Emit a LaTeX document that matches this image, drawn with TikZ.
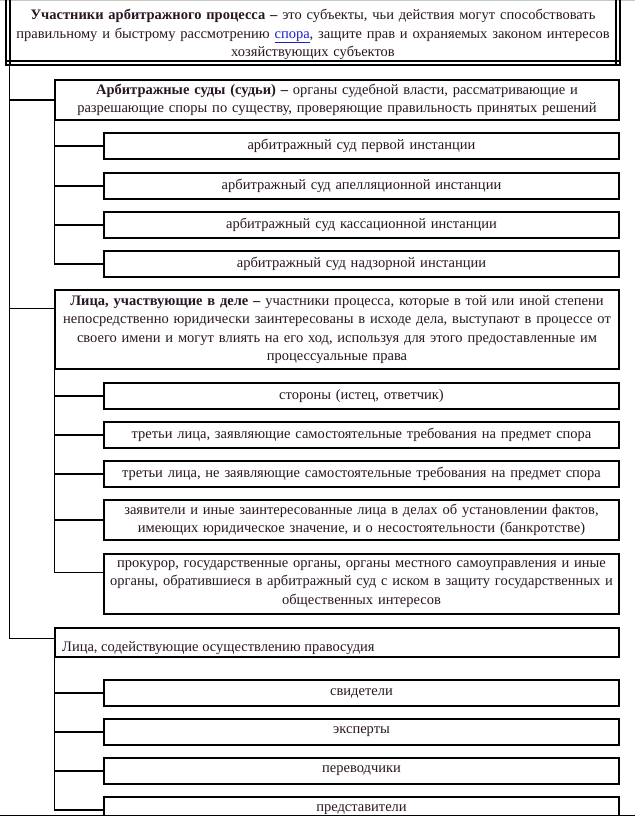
\documentclass[tikz,border=0pt]{standalone}
\usepackage{fontspec}
\setmainfont{Liberation Serif}
\usetikzlibrary{calc}
\definecolor{txt}{RGB}{40,22,36}
\definecolor{lnk}{RGB}{30,30,205}
\newcommand\myfs{\fontsize{14.5}{18.5}\selectfont}
\begin{document}
\begin{tikzpicture}[x=1pt,y=-1pt,
  ln/.style={line width=1.3pt, draw=black},
  box/.style={draw=black, line width=1.3pt, inner sep=0pt, align=center, text=txt, font=\myfs},
  mainbox/.style={box, text width=564pt},
  subbox/.style={box, text width=515pt},
  dbl/.style={line width=1.6pt, draw=black}]
\useasboundingbox (0,0) rectangle (635,816);
\clip (0,0) rectangle (635,816);
\fill[white] (0,0) rectangle (635,816);

% top box
\node[text=txt, font=\myfs, align=center, text width=600pt, inner sep=0pt] (top) at (313,34.5)
 {\textbf{Участники арбитражного процесса –} это субъекты, чьи действия могут способствовать\\
  правильному и быстрому рассмотрению \textcolor{lnk}{\underline{спора}}, защите прав и охраняемых законом интересов\\
  хозяйствующих субъектов};
\draw[gray!45, line width=1pt] (0,0.5) -- (635,0.5);
\draw[dbl] (6,0) -- (6,65.8);
\draw[dbl] (10,0) -- (10,65.8);
\draw[dbl] (616,0) -- (616,65.8);
\draw[dbl] (620,0) -- (620,65.8);
\draw[dbl] (5.2,61) -- (620.8,61);
\draw[dbl] (5.2,65) -- (620.8,65);

% group 1
\node[mainbox, minimum height=40pt] (b1) at (337,100)
 {\textbf{Арбитражные суды (судьи) –} органы судебной власти, рассматривающие и\\
  разрешающие споры по существу, проверяющие правильность принятых решений};
\node[subbox, minimum height=26pt] (s11) at (361.5,146) {арбитражный суд первой инстанции};
\node[subbox, minimum height=26pt] (s12) at (361.5,186) {арбитражный суд апелляционной инстанции};
\node[subbox, minimum height=26pt] (s13) at (361.5,225) {арбитражный суд кассационной инстанции};
\node[subbox, minimum height=26pt] (s14) at (361.5,264) {арбитражный суд надзорной инстанции};

% group 2
\node[mainbox, minimum height=79pt] (b2) at (337,329.5)
 {\textbf{Лица, участвующие в деле –} участники процесса, которые в той или иной степени\\
  непосредственно юридически заинтересованы в исходе дела, выступают в процессе от\\
  своего имени и могут влиять на его ход, используя для этого предоставленные им\\
  процессуальные права};
\node[subbox, minimum height=26pt] (s21) at (361.5,396) {стороны (истец, ответчик)};
\node[subbox, minimum height=26pt] (s22) at (361.5,435) {третьи лица, заявляющие самостоятельные требования на предмет спора};
\node[subbox, minimum height=26pt] (s23) at (361.5,474) {третьи лица, не заявляющие самостоятельные требования на предмет спора};
\node[subbox, minimum height=40pt] (s24) at (361.5,520)
 {заявители и иные заинтересованные лица в делах об установлении фактов,\\
  имеющих юридическое значение, и о несостоятельности (банкротстве)};
\node[subbox, minimum height=60pt] (s25) at (361.5,584)
 {прокурор, государственные органы, органы местного самоуправления и иные\\
  органы, обратившиеся в арбитражный суд с иском в защиту государственных и\\
  общественных интересов};

% group 3
\node[mainbox, minimum height=29pt] (b3) at (337,642.5) {};
\node[anchor=west, text=txt, font=\myfs, inner sep=0pt] (b3t) at (62,648) {Лица, содействующие осуществлению правосудия};
\node[subbox, minimum height=26pt] (s31) at (361.5,693) {свидетели};
\node[subbox, minimum height=26pt] (s32) at (361.5,732) {эксперты};
\node[subbox, minimum height=26pt] (s33) at (361.5,771) {переводчики};
\node[subbox, minimum height=26pt] (s34) at (361.5,810) {представители};

% connectors
\coordinate (m0) at (9.5,65.8);
\coordinate (b2in) at ([yshift=-19pt]b2.north west);
\coordinate (b3in) at ([yshift=-11pt]b3.north west);
\coordinate (s25in) at ([yshift=-19pt]s25.north west);
\draw[ln] (m0) |- (b3in);
\draw[ln] (m0 |- b1.west) -- (b1.west);
\draw[ln] (m0 |- b2in) -- (b2in);

\draw[ln] (b1.south west) |- (s14.west);
\foreach \n in {s11,s12,s13} \draw[ln] (b1.south west |- \n.west) -- (\n.west);

\draw[ln] (b2.south west) |- (s25in);
\foreach \n in {s21,s22,s23,s24} \draw[ln] (b2.south west |- \n.west) -- (\n.west);

\draw[ln] (b3.south west) |- (s34.west);
\foreach \n in {s31,s32,s33} \draw[ln] (b3.south west |- \n.west) -- (\n.west);

\coordinate (bl) at (0,815.3);
\coordinate (br) at (635,815.3);
\draw[ln] (bl) -- (br);
\end{tikzpicture}
\end{document}
